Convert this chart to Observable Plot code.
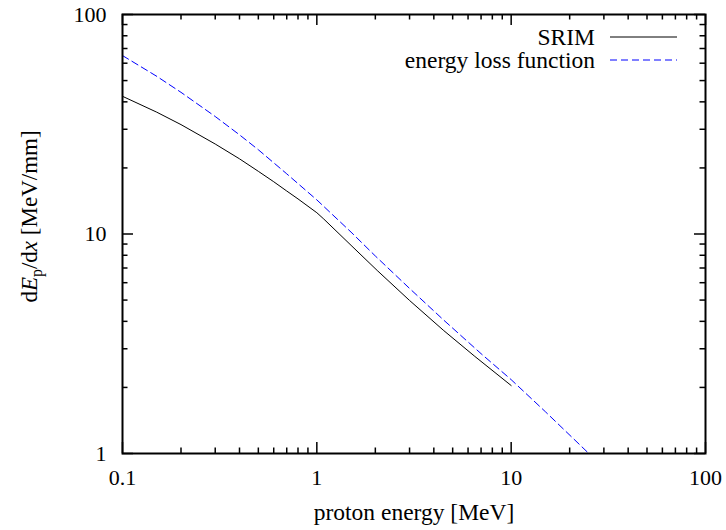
<!DOCTYPE html>
<html>
<head>
<meta charset="utf-8">
<script src="https://cdn.jsdelivr.net/npm/d3@7"></script>
<script src="https://cdn.jsdelivr.net/npm/@observablehq/plot@0.6"></script>
<style>
  html, body { margin: 0; padding: 0; background: #ffffff; }
  #chart svg { display: block; }
  #chart svg text, #chart svg tspan { font-family: 'Liberation Serif', 'Times New Roman', serif !important; fill: #000; }
</style>
</head>
<body>
<div id="chart"></div>
<script>
// ---- data ----
const srimEnergy   = [0.1, 0.15, 0.2, 0.3, 0.4, 0.5, 0.6, 0.7, 0.8, 1.0, 1.086, 1.5, 2.045, 3, 4.5, 6.5, 10];
const srimStopping = [42.4, 35.9, 31.5, 25.7, 22.0, 19.3, 17.3, 15.7, 14.45, 12.5, 11.7, 8.88, 6.82, 4.98, 3.63, 2.77, 2.04];

const elfEnergy   = [0.1, 0.15, 0.2, 0.3, 0.4, 0.5, 0.7, 1.0, 1.5, 2.0, 3.0, 4.5, 7.0, 10, 15, 25.1];
const elfStopping = [65.0, 52.3, 44.2, 34.3, 28.3, 24.2, 18.8, 14.3, 10.2, 7.94, 5.65, 4.05, 2.85, 2.17, 1.55, 1.0];

const xMajorTicks = [0.1, 1, 10, 100];
const xMinorTicks = [0.2, 0.3, 0.4, 0.5, 0.6, 0.7, 0.8, 0.9, 2, 3, 4, 5, 6, 7, 8, 9, 20, 30, 40, 50, 60, 70, 80, 90];
const yMajorTicks = [1, 10, 100];
const yMinorTicks = [2, 3, 4, 5, 6, 7, 8, 9, 20, 30, 40, 50, 60, 70, 80, 90];
const xTickLabels = ["0.1", "1", "10", "100"];
const yTickLabels = ["1", "10", "100"];

const xAxisLabel = "proton energy [MeV]";
const seriesNames = ["SRIM", "energy loss function"];

// ---- tables ----
const srim = srimEnergy.map((e, i) => ({e, s: srimStopping[i]}));
const elf  = elfEnergy.map((e, i) => ({e, s: elfStopping[i]}));

// ---- layout ----
const W = 726, H = 530;
const mL = 122, mR = 21, mT = 14, mB = 77;
const fw = W - mL - mR, fh = H - mT - mB;
const FONT = "'Liberation Serif', 'Times New Roman', serif";
const TICK_FS = 22, LABEL_FS = 23.5;
const majorLen = 11, minorLen = 5.5, tickW = 1.5;

function tickRules() {
  const o = {stroke: "black", strokeWidth: tickW};
  return [
    Plot.ruleX(xMajorTicks, {...o, insetTop: fh - majorLen}),
    Plot.ruleX(xMajorTicks, {...o, insetBottom: fh - majorLen}),
    Plot.ruleX(xMinorTicks, {...o, insetTop: fh - minorLen}),
    Plot.ruleX(xMinorTicks, {...o, insetBottom: fh - minorLen}),
    Plot.ruleY(yMajorTicks, {...o, insetRight: fw - majorLen}),
    Plot.ruleY(yMajorTicks, {...o, insetLeft: fw - majorLen}),
    Plot.ruleY(yMinorTicks, {...o, insetRight: fw - minorLen}),
    Plot.ruleY(yMinorTicks, {...o, insetLeft: fw - minorLen})
  ];
}

// y-axis label with italic E, x and subscript p
function yLabelMark(index, scales, values, dims) {
  const g = d3.create("svg:g");
  const cy = dims.marginTop + (dims.height - dims.marginTop - dims.marginBottom) / 2 - 17;
  const t = g.append("text")
    .attr("transform", `translate(37,${cy}) rotate(-90)`)
    .attr("text-anchor", "middle")
    .attr("font-family", FONT)
    .style("font-size", "23px");
  t.append("tspan").text("d");
  t.append("tspan").attr("font-style", "italic").text("E");
  t.append("tspan").style("font-size", "16px").attr("dy", 5).text("p");
  t.append("tspan").attr("dy", -5).text("/d");
  t.append("tspan").attr("font-style", "italic").text("x");
  t.append("tspan").text(" [MeV/mm]");
  return g.node();
}

// legend in the top-right corner of the frame
function legendMark(index, scales, values, dims) {
  const g = d3.create("svg:g").attr("font-family", FONT);
  const right = dims.width - dims.marginRight;
  const top = dims.marginTop;
  const rows = [
    {name: seriesNames[0], stroke: "black", dash: null, y: top + 23},
    {name: seriesNames[1], stroke: "#0000ff", dash: "7,4", y: top + 46}
  ];
  for (const r of rows) {
    g.append("text")
      .attr("x", right - 110)
      .attr("y", r.y + 7.5)
      .attr("text-anchor", "end")
      .style("font-size", LABEL_FS + "px")
      .text(r.name);
    const ln = g.append("line")
      .attr("x1", right - 95).attr("x2", right - 28)
      .attr("y1", r.y).attr("y2", r.y)
      .attr("stroke", r.stroke).attr("stroke-width", 1);
    if (r.dash) ln.attr("stroke-dasharray", r.dash);
  }
  return g.node();
}

const chart = Plot.plot({
  width: W,
  height: H,
  marginLeft: mL,
  marginRight: mR,
  marginTop: mT,
  marginBottom: mB,
  style: {"font-family": FONT, "font-size": TICK_FS + "px", color: "black", background: "white"},
  x: {
    type: "log", domain: [0.1, 100],
    ticks: xMajorTicks, tickSize: 0, tickPadding: 16,
    tickFormat: d => xTickLabels[xMajorTicks.indexOf(d)],
    label: null
  },
  y: {
    type: "log", domain: [1, 100],
    ticks: yMajorTicks, tickSize: 0, tickPadding: 16,
    tickFormat: d => yTickLabels[yMajorTicks.indexOf(d)],
    label: null
  },
  marks: [
    ...tickRules(),
    Plot.line(srim, {x: "e", y: "s", stroke: "black", strokeWidth: 1}),
    Plot.line(elf, {x: "e", y: "s", stroke: "#0000ff", strokeWidth: 1, strokeDasharray: "7,4"}),
    Plot.frame({stroke: "black", strokeWidth: 2}),
    Plot.text([xAxisLabel], {text: d => d, frameAnchor: "bottom", dy: 66, lineAnchor: "bottom", fontSize: LABEL_FS}),
    yLabelMark,
    legendMark
  ]
});

// make sure tick labels get the intended size
d3.select(chart).selectAll("g[aria-label$='tick label'] text").style("font-size", TICK_FS + "px");

document.getElementById("chart").appendChild(chart);
</script>
</body>
</html>
